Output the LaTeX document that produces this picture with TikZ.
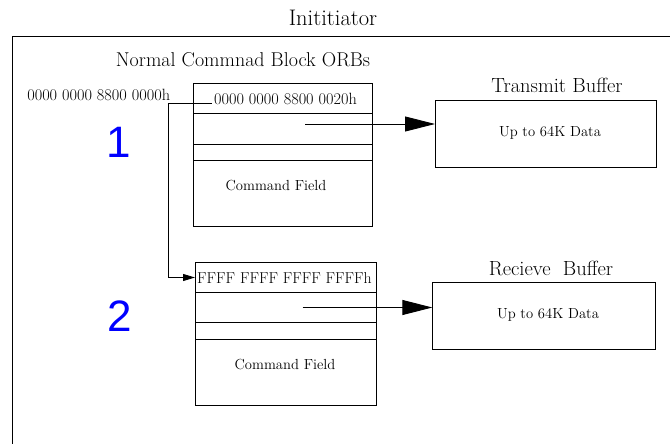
\documentclass[tikz,border=0pt]{standalone}
\usepackage{fontspec}
\newfontfamily\digitfont{Liberation Sans}
\usetikzlibrary{arrows.meta}
\definecolor{numblue}{RGB}{0,0,255}
\tikzset{
  ln/.style={line width=0.9pt, black},
  cell/.style={draw, line width=0.9pt, rectangle, inner sep=0pt, outer sep=0pt, anchor=center},
  small/.style={font=\fontsize{14.6}{16}\selectfont, inner sep=0pt},
  hex/.style={font=\fontsize{16.3}{18}\selectfont, inner sep=0pt},
  hexf/.style={font=\fontsize{15.8}{18}\selectfont, inner sep=0pt},
  head/.style={font=\fontsize{20.5}{22}\selectfont, inner sep=0pt},
  num/.style={font=\digitfont\fontsize{44}{48}\selectfont, text=numblue, inner sep=0pt},
  bigarrow/.style={ln, -{Triangle[length=30pt,width=15pt]}},
  smallarrow/.style={ln, -{Triangle[length=12pt,width=7pt]}}
}
\begin{document}
\begin{tikzpicture}[x=1pt, y=-1pt]
\useasboundingbox (0,0) rectangle (670,444);
% outer frame
\draw[ln] (12,444) -- (12,36) -- (670,36);
\node[font=\fontsize{22.5}{24}\selectfont, inner sep=0pt] (title) at (333,18) {Inititiator};
\node[font=\fontsize{20}{22}\selectfont, inner sep=0pt] (orbs) at (243,60) {Normal Commnad Block ORBs};
\node[hex] (addr0) at (98.7,95) {0000 0000 8800 0000h};
\node[num] (n1) at (118.5,142.5) {1};
\node[num] (n2) at (119.5,316.5) {2};
% ORB block 1
\node[cell, minimum width=179.4pt, minimum height=30pt] (a1) at (283,98.3) {};
\node[hex] (a1lab) at (285.5,99) {0000 0000 8800 0020h};
\node[cell, minimum width=179.4pt, minimum height=30.7pt] (a2) at (283,128.65) {};
\node[cell, minimum width=179.4pt, minimum height=16pt] (a3) at (283,152) {};
\node[cell, minimum width=179.4pt, minimum height=66.7pt] (a4) at (283,193.35) {};
\node[small] (a4lab) at (276,186) {Command Field};
% ORB block 2
\node[cell, minimum width=181pt, minimum height=30.4pt] (b1) at (285.5,277.5) {};
\node[hexf] (b1lab) at (284.5,278) {FFFF FFFF FFFF FFFFh};
\node[cell, minimum width=181pt, minimum height=30pt] (b2) at (285.5,307.7) {};
\node[cell, minimum width=181pt, minimum height=16.6pt] (b3) at (285.5,331) {};
\node[cell, minimum width=181pt, minimum height=66pt] (b4) at (285.5,372.3) {};
\node[small] (b4lab) at (285,365) {Command Field};
% buffers
\node[cell, minimum width=221.7pt, minimum height=67.3pt] (tx) at (545.85,133.65) {};
\node[small] (txlab) at (550,133) {Up to 64K Data};
\node[head] (txtitle) at (557,85) {Transmit Buffer};
\node[cell, minimum width=222.7pt, minimum height=67pt] (rx) at (543.65,315.8) {};
\node[small] (rxlab) at (548,315) {Up to 64K Data};
\node[head] (rxtitle) at (551,268) {Recieve\ \ Buffer};
% connectors
\coordinate (p1) at (305,124);
\coordinate (p2) at (302.7,307.5);
\draw[bigarrow] (p1) -- (p1 -| tx.west);
\draw[bigarrow] (p2) -- (p2 -| rx.west);
\coordinate (c1) at (212,103.3);
\coordinate (bend) at (168.3,103.3);
\draw[smallarrow] (c1) -- (bend) |- (b1.west);
\end{tikzpicture}
\end{document}
